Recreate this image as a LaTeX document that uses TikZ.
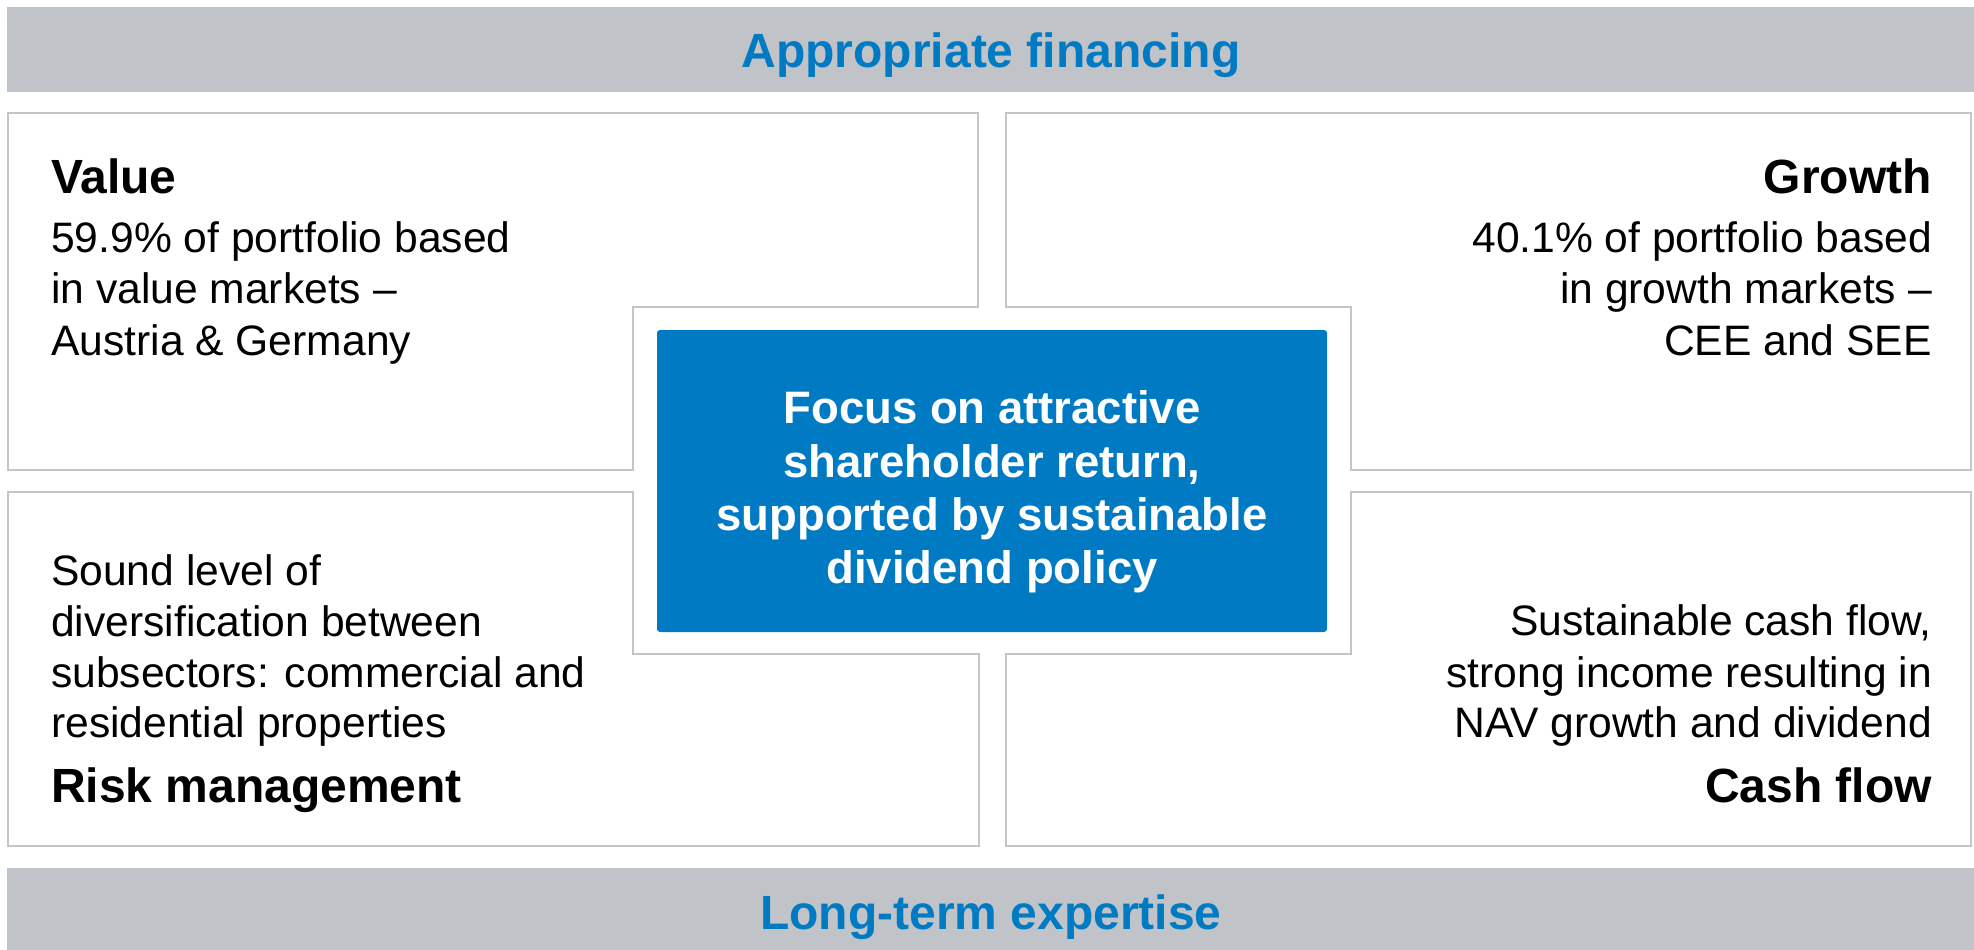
\documentclass[tikz,border=0pt]{standalone}
\usepackage{fontspec}
\setmainfont{Liberation Sans}
\definecolor{barGray}{RGB}{192,195,199}
\definecolor{lineGray}{RGB}{194,197,201}
\definecolor{brandBlue}{RGB}{0,122,195}
\tikzset{
  panel/.style={draw=lineGray, line width=2pt, fill=white, line join=miter},
  bar/.style={fill=barGray, draw=none},
  bartitle/.style={anchor=base, inner sep=0pt, text=brandBlue,
    font=\fontsize{48}{57}\selectfont\bfseries},
  headL/.style={anchor=base west, inner sep=0pt,
    font=\fontsize{48}{57}\selectfont\bfseries},
  headR/.style={anchor=base east, inner sep=0pt,
    font=\fontsize{48}{57}\selectfont\bfseries},
  bodyL/.style={anchor=base west, inner sep=0pt,
    font=\fontsize{42.6}{51}\selectfont},
  bodyR/.style={anchor=base east, inner sep=0pt,
    font=\fontsize{42.6}{51}\selectfont},
  focus/.style={anchor=base, inner sep=0pt, text=white,
    font=\fontsize{45.5}{54}\selectfont\bfseries},
  corebox/.style={fill=brandBlue, draw=none, rounded corners=3pt}
}
\begin{document}
\begin{tikzpicture}[x=1pt, y=-1pt]
  \useasboundingbox (0,0) rectangle (1974,950);
  \fill[white] (0,0) rectangle (1974,950);

  % header and footer bars
  \fill[bar] (7,7) rectangle (1974,92);
  \fill[bar] (7,868) rectangle (1974,950);
  \node[bartitle] (top) at (991,67) {Appropriate financing};
  \node[bartitle] (bottom) at (991,929) {Long-term expertise};

  % four notched panels around the core
  \draw[panel] (8,113) -- (978,113) -- (978,307) -- (633,307) -- (633,470) -- (8,470) -- cycle;
  \draw[panel] (1006,113) -- (1971,113) -- (1971,470) -- (1351,470) -- (1351,307) -- (1006,307) -- cycle;
  \draw[panel] (8,492) -- (633,492) -- (633,654) -- (979,654) -- (979,846) -- (8,846) -- cycle;
  \draw[panel] (1351,492) -- (1971,492) -- (1971,846) -- (1006,846) -- (1006,654) -- (1351,654) -- cycle;

  % core box
  \fill[corebox] (657,330) rectangle (1327,632);
  \node[focus] (c1) at (992,423) {Focus on attractive};
  \node[focus] (c2) at (992,477) {shareholder return,};
  \node[focus] (c3) at (992,530) {supported by sustainable};
  \node[focus] (c4) at (992,583) {dividend policy};

  % value
  \node[headL] (valH) at (51,193) {Value};
  \node[bodyL] (val1) at (51,252) {59.9\% of portfolio based};
  \node[bodyL] (val2) at (51,303) {in value markets --};
  \node[bodyL] (val3) at (51,355) {Austria \& Germany};

  % growth
  \node[headR] (groH) at (1932,193) {Growth};
  \node[bodyR] (gro1) at (1932,252) {40.1\% of portfolio based};
  \node[bodyR] (gro2) at (1932,303) {in growth markets --};
  \node[bodyR] (gro3) at (1932,355) {CEE and SEE};

  % risk management
  \node[bodyL] (risk1) at (51,585) {Sound level of};
  \node[bodyL] (risk2) at (51,636) {diversification between};
  \node[bodyL] (risk3) at (51,687) {subsectors: commercial and};
  \node[bodyL] (risk4) at (51,737) {residential properties};
  \node[headL] (riskH) at (51,802) {Risk management};

  % cash flow
  \node[bodyR] (cash1) at (1932,635) {Sustainable cash flow,};
  \node[bodyR] (cash2) at (1932,687) {strong income resulting in};
  \node[bodyR] (cash3) at (1932,737) {NAV growth and dividend};
  \node[headR] (cashH) at (1932,802) {Cash flow};
\end{tikzpicture}
\end{document}
